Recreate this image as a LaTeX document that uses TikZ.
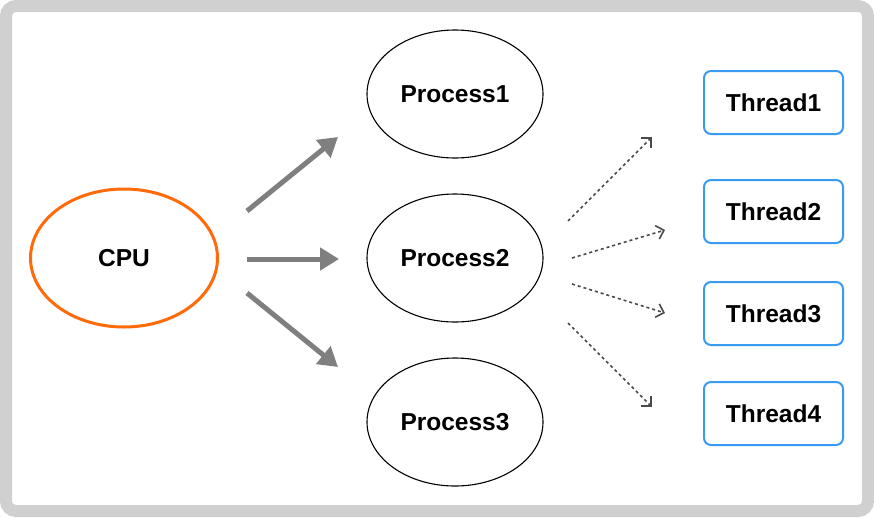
\documentclass[tikz,border=0pt]{standalone}
\usepackage{fontspec}
\setmainfont{Liberation Sans}
\usetikzlibrary{shapes.geometric,arrows.meta}
\definecolor{framegray}{HTML}{D0D0D0}
\definecolor{cpuorange}{HTML}{FF6A0A}
\definecolor{threadblue}{HTML}{3A9BF5}
\definecolor{flowgray}{HTML}{7F7F7F}
\definecolor{dotgray}{HTML}{4A4A4A}
\begin{document}
\begin{tikzpicture}[x=1pt,y=-1pt,
  lbl/.style={font=\fontsize{24.5}{29}\selectfont\bfseries, text=black},
  cpunode/.style={ellipse, draw=cpuorange, line width=3pt, minimum width=187pt, minimum height=138pt, inner sep=0pt, lbl},
  procnode/.style={ellipse, draw=black, line width=1.1pt, minimum width=176pt, minimum height=128pt, inner sep=0pt, lbl},
  threadnode/.style={rectangle, rounded corners=7pt, draw=threadblue, line width=2pt, minimum width=139pt, minimum height=63pt, inner sep=0pt, lbl},
  flow/.style={draw=flowgray, line width=5pt, -{Triangle[length=19pt,width=22pt]}},
  spawn/.style={draw=dotgray, line width=1.6pt, dash pattern=on 3pt off 3pt, -{Straight Barb[length=7pt,width=14pt,line width=1.6pt]}}
]
% canvas and frame
\useasboundingbox (0,0) rectangle (874,517);
\fill[white] (0,0) rectangle (874,517);
\draw[framegray, line width=12pt, fill=white, rounded corners=10pt] (6,6) rectangle (868,511);

% nodes
\node[cpunode] (cpu) at (124,258) {CPU};
\node[procnode] (p1) at (455,94) {Process1};
\node[procnode] (p2) at (455,258) {Process2};
\node[procnode] (p3) at (455,422) {Process3};
\node[threadnode] (t1) at (773.5,102.5) {Thread1};
\node[threadnode] (t2) at (773.5,211.5) {Thread2};
\node[threadnode] (t3) at (773.5,313.5) {Thread3};
\node[threadnode] (t4) at (773.5,413.5) {Thread4};

% CPU -> processes
\coordinate (f1s) at (247,211); \coordinate (f1e) at (338,137);
\coordinate (f2s) at (247,259); \coordinate (f2e) at (339,259);
\coordinate (f3s) at (247,293); \coordinate (f3e) at (338,367);
\draw[flow] (f1s) -- (f1e);
\draw[flow] (f2s) -- (f2e);
\draw[flow] (f3s) -- (f3e);

% Process2 -> threads
\coordinate (s1s) at (568,221); \coordinate (s1e) at (652,137);
\coordinate (s2s) at (572,258); \coordinate (s2e) at (665,230);
\coordinate (s3s) at (572,284); \coordinate (s3e) at (665,313);
\coordinate (s4s) at (568,323); \coordinate (s4e) at (652,407);
\draw[spawn] (s1s) -- (s1e);
\draw[spawn] (s2s) -- (s2e);
\draw[spawn] (s3s) -- (s3e);
\draw[spawn] (s4s) -- (s4e);
\end{tikzpicture}
\end{document}
